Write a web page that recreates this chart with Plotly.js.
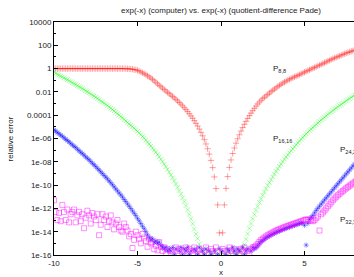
<!DOCTYPE html>
<html><head><meta charset="utf-8">
<script src="https://cdn.plot.ly/plotly-3.0.1.min.js"></script>
<style>html,body{margin:0;padding:0;overflow:hidden;background:#fff;}#chart{width:400px;height:277px;}</style>
</head><body><div id="chart"></div>
<script>
// sampling grid of the plot: x from -10 step 0.1
const xStart = -10, xStep = 0.1;

// log10(relative error) (null = no point shown)
const p8Log = [
0,0,0,0,0,0,0,0,0,0,
0,0,0,0,0,0,0,0,0,0,
0,0,0,0,0,0,0,0,0,0,
0,0,0,0,0,0,0,0,0,0,
0,0,-0.005,-0.008,-0.013,-0.022,-0.035,-0.055,-0.08,-0.11,
-0.15,-0.21,-0.28,-0.36,-0.44,-0.52,-0.61,-0.71,-0.82,-0.93,
-1.05,-1.18,-1.31,-1.44,-1.56,-1.68,-1.8,-1.92,-2.04,-2.15,
-2.27,-2.39,-2.51,-2.64,-2.77,-2.91,-3.05,-3.2,-3.36,-3.52,
-3.69,-3.87,-4.06,-4.26,-4.47,-4.69,-4.93,-5.19,-5.47,-5.77,
-6.1,-6.47,-6.88,-7.34,-7.88,-8.5,-9.3,-10.3,-11.7,-14.1,
null,-14.1,-11.7,-10.28,-9.27,-8.48,-7.84,-7.29,-6.82,-6.4,
-6.02,-5.68,-5.36,-5.06,-4.78,-4.52,-4.27,-4.04,-3.82,-3.61,
-3.41,-3.22,-3.04,-2.87,-2.72,-2.58,-2.46,-2.34,-2.22,-2.1,
-1.98,-1.87,-1.76,-1.65,-1.54,-1.44,-1.35,-1.25,-1.16,-1.08,
-1.0,-0.92,-0.85,-0.78,-0.71,-0.65,-0.59,-0.52,-0.45,-0.38,
-0.31,-0.24,-0.17,-0.11,-0.04,0.03,0.09,0.16,0.23,0.29,
0.36,0.43,0.5,0.57,0.64,0.71,0.78,0.85,0.91,0.97,
1.03,1.09,1.15,1.21,1.27,1.33,1.38,1.43,1.48,1.53,
1.58,1.63,1.68];

const p16Log = [
-0.3,-0.41,-0.49,-0.56,-0.65,-0.71,-0.8,-0.88,-0.95,-1.04,
-1.12,-1.21,-1.29,-1.36,-1.46,-1.55,-1.63,-1.72,-1.8,-1.9,
-1.99,-2.07,-2.18,-2.28,-2.36,-2.46,-2.57,-2.67,-2.77,-2.87,
-2.97,-3.08,-3.18,-3.3,-3.4,-3.52,-3.64,-3.76,-3.88,-3.99,
-4.11,-4.23,-4.37,-4.49,-4.62,-4.76,-4.86,-4.99,-5.12,-5.25,
-5.39,-5.53,-5.67,-5.82,-5.97,-6.14,-6.31,-6.48,-6.65,-6.82,
-7.01,-7.19,-7.38,-7.58,-7.79,-7.99,-8.21,-8.42,-8.65,-8.89,
-9.13,-9.38,-9.64,-9.91,-10.19,-10.47,-10.78,-11.09,-11.42,-11.76,
-12.12,-12.5,-12.9,-13.32,-13.77,-14.2,-14.6,-15.05,-15.48,-15.65,
-15.95,null,-15.65,null,-15.95,null,null,-15.65,null,-15.95,
null,null,-15.95,null,-15.65,null,-15.95,null,-15.65,null,
-15.95,-15.65,-15.65,-15.4,-15.1,-14.65,-14.17,-13.72,-13.3,-12.9,
-12.52,-12.16,-11.82,-11.49,-11.18,-10.87,-10.59,-10.31,-10.04,-9.78,
-9.53,-9.29,-9.05,-8.82,-8.61,-8.39,-8.19,-7.98,-7.78,-7.59,
-7.41,-7.22,-7.05,-6.88,-6.71,-6.54,-6.37,-6.22,-6.06,-5.91,
-5.76,-5.6,-5.47,-5.33,-5.2,-5.06,-4.92,-4.79,-4.67,-4.53,
-4.41,-4.29,-4.18,-4.06,-3.94,-3.82,-3.7,-3.6,-3.48,-3.38,
-3.27,-3.17,-3.07,-2.97,-2.87,-2.76,-2.66,-2.58,-2.48,-2.37,
-2.29,-2.2,-2.1];

const p24Log = [
-5.26,-5.36,-5.49,-5.59,-5.71,-5.81,-5.94,-6.07,-6.17,-6.29,
-6.42,-6.55,-6.67,-6.77,-6.92,-7.05,-7.18,-7.3,-7.43,-7.58,
-7.7,-7.83,-7.98,-8.13,-8.26,-8.41,-8.56,-8.71,-8.86,-9.01,
-9.17,-9.32,-9.47,-9.64,-9.8,-9.97,-10.15,-10.33,-10.5,-10.68,
-10.85,-11.03,-11.23,-11.41,-11.61,-11.81,-12.01,-12.22,-12.42,-12.62,
-12.85,-13.07,-13.3,-13.53,-13.75,-14.0,-14.26,-14.5,-14.7,-14.6,
-14.9,-14.8,-15.0,-14.9,-15.2,-15.3,-15.48,-15.35,-15.65,-15.48,
-15.65,-15.35,-15.95,-15.48,null,-15.65,-15.35,-15.95,-15.48,-15.65,
-15.35,-15.95,-15.65,null,-15.48,-15.65,-15.95,-15.35,null,-15.65,
-15.95,-15.48,null,-15.65,-15.95,null,-15.65,null,-15.95,-15.48,
null,-15.65,null,-15.95,-15.48,-15.65,null,-15.35,-15.65,-15.95,
-15.48,-15.65,null,-15.35,-15.95,-15.65,-15.48,null,-15.65,-15.35,
-15.48,-15.35,-15.2,-15.0,-14.85,-14.75,-14.63,-14.52,-14.43,-14.35,
-14.27,-14.2,-14.13,-14.06,-14.0,-13.94,-13.88,-13.82,-13.76,-13.71,
-13.65,-13.6,-13.55,-13.5,-13.45,-13.4,-13.35,-13.3,-13.25,-13.25,
-13.45,-15.15,-13.3,-12.95,-12.75,-12.6,-12.38,-12.17,-11.99,-11.81,
-11.63,-11.45,-11.27,-11.1,-10.92,-10.75,-10.58,-10.4,-10.23,-10.06,
-9.89,-9.72,-9.55,-9.38,-9.21,-9.04,-8.87,-8.7,-8.53,-8.36,
-8.2,-8.04,-7.88];

const p32Log = [
-11.3,-12.3,-13.0,-12.4,-13.1,-11.7,-12.3,-13.0,-12.1,-13.2,
-12.5,-12.3,-12.1,-13.2,-12.6,-12.3,-13.1,-12.5,-13.7,-12.8,
-12.2,-12.6,-13.3,-12.4,-12.7,-13.0,-12.5,-14.3,-13.4,-12.5,
-13.0,-12.7,-13.6,-13.1,-12.6,-13.2,-13.8,-13.3,-13.0,-13.6,
-13.9,-14.0,-13.3,-13.6,-13.9,-14.4,-14.2,-15.4,-14.7,-14.0,
-14.3,-14.6,-15.0,-14.2,-14.5,-14.8,-15.3,-14.6,-15.0,-14.9,
-15.5,-15.2,-15.6,-14.9,-15.3,-15.65,-15.35,-15.95,-15.48,null,
-15.65,-15.95,null,-15.35,-15.65,-15.48,null,-15.95,-15.65,-15.35,
null,-15.48,-15.65,-15.95,-15.35,null,-15.65,-15.48,-15.95,null,
-15.65,-15.35,null,-15.95,-15.48,-15.65,null,-15.35,-15.65,null,
null,-15.48,-15.65,null,-15.95,-15.35,-15.65,null,-15.48,-15.65,
null,-15.95,-15.48,-15.65,-15.35,null,-15.65,-15.95,-15.48,-15.35,
-15.3,-15.2,-15.05,-14.88,-14.72,-14.6,-14.5,-14.4,-14.3,-14.22,
-14.14,-14.06,-13.98,-13.91,-13.85,-13.79,-13.73,-13.67,-13.61,-13.55,
-13.5,-13.45,-13.4,-13.35,-13.3,-13.25,-13.2,-13.15,-13.1,-13.05,
-13.0,-12.95,-12.95,-12.98,-13.05,-13.1,-13.0,-12.85,-12.7,-13.9,
-12.5,-12.35,-12.18,-12.0,-11.82,-11.65,-11.48,-11.3,-11.15,-11.0,
-10.87,-10.74,-10.62,-10.5,-10.38,-10.27,-10.16,-10.05,-9.95,-9.85,
-9.75,-9.65,-9.56];

const seriesNames = ['P8,8', 'P16,16', 'P24,24', 'P32,32'];
const seriesColors = ['#ff0000', '#00ff00', '#0000ff', '#ff00ff'];
const seriesSymbols = ['cross-thin-open', 'x-thin-open', 'asterisk-open', 'square-open'];

const yTickVals = [1e4, 1e2, 1, 1e-2, 1e-4, 1e-6, 1e-8, 1e-10, 1e-12, 1e-14, 1e-16];
const yTickText = ['10000', '100', '1', '0.01', '0.0001', '1e-06', '1e-08', '1e-10', '1e-12', '1e-14', '1e-16'];
const yMinorVals = [1e3, 1e1, 1e-1, 1e-3, 1e-5, 1e-7, 1e-9, 1e-11, 1e-13, 1e-15];
const xTickVals = [-10, -5, 0, 5, 10];
const xTickText = ['-10', '-5', '0', '5', '10'];

const labelText = ['P<sub>8,8</sub>', 'P<sub>16,16</sub>', 'P<sub>24,24</sub>', 'P<sub>32,32</sub>'];
const labelX = [3, 3, 7, 7];
const labelYExp = [0, -6, -7, -13];

const titleText = 'exp(-x) (computer) vs. exp(-x) (quotient-difference Pade)';

const xs = p8Log.map((_, i) => Math.round((xStart + i * xStep) * 10) / 10);
const toVal = arr => arr.map(v => v === null ? null : Math.pow(10, v));

const allLogs = [p8Log, p16Log, p24Log, p32Log];
const traces = allLogs.map((arr, k) => ({
  type: 'scatter', mode: 'markers', name: seriesNames[k],
  x: xs, y: toVal(arr),
  marker: { symbol: seriesSymbols[k], size: k === 3 ? 5 : 4.5, color: seriesColors[k],
            opacity: 0.75,
            line: { width: k === 3 ? 0.6 : 0.5, color: seriesColors[k] } },
  cliponaxis: true, showlegend: false, hoverinfo: 'skip'
}));

const W = 400, H = 277, ML = 54, MR = 12, MT = 22, MB = 22;
const PW = W - ML - MR, PH = H - MT - MB;
const fontFam = '"Liberation Sans", Arial, Helvetica, sans-serif';

const annotations = labelText.map((t, i) => ({
  text: t, x: labelX[i], y: labelYExp[i], xref: 'x', yref: 'y',
  xanchor: 'left', yanchor: 'middle', showarrow: false,
  font: { family: fontFam, size: 8, color: '#222' }
}));
annotations.push({
  text: 'relative error', textangle: -90, xref: 'paper', yref: 'paper',
  x: (10 - ML) / PW, y: 0.5, xanchor: 'center', yanchor: 'middle', showarrow: false,
  font: { family: fontFam, size: 8, color: '#222' }
});
annotations.push({
  text: 'x', xref: 'paper', yref: 'paper',
  x: 0.5, y: -(272 - (MT + PH)) / PH, xanchor: 'center', yanchor: 'middle', showarrow: false,
  font: { family: fontFam, size: 8, color: '#222' }
});

const layout = {
  width: W, height: H,
  margin: { l: ML, r: MR, t: MT, b: MB, pad: 0 },
  paper_bgcolor: '#fff', plot_bgcolor: '#fff',
  font: { family: fontFam, size: 8, color: '#222' },
  title: { text: titleText, x: 0.5, xref: 'paper', xanchor: 'center',
           y: 1 - 10 / H, yref: 'container', yanchor: 'middle',
           font: { family: fontFam, size: 8, color: '#222' } },
  showlegend: false,
  xaxis: {
    range: [-10, 10], tickmode: 'array', tickvals: xTickVals, ticktext: xTickText,
    ticks: 'inside', ticklen: 4, tickwidth: 1, tickcolor: '#000',
    showline: true, linecolor: '#000', linewidth: 1, mirror: 'ticks',
    showgrid: false, zeroline: false, tickfont: { size: 8, color: '#222' }
  },
  yaxis: {
    type: 'log', range: [-16, 4], tickmode: 'array', tickvals: yTickVals, ticktext: yTickText,
    ticks: 'inside', ticklen: 4, tickwidth: 1, tickcolor: '#000',
    minor: { tickmode: 'array', tickvals: yMinorVals, ticks: 'inside', ticklen: 2, tickcolor: '#000', showgrid: false },
    showline: true, linecolor: '#000', linewidth: 1, mirror: 'ticks',
    showgrid: false, zeroline: false, tickfont: { size: 8, color: '#222' }
  },
  annotations: annotations
};

Plotly.newPlot('chart', traces, layout, { staticPlot: true, displayModeBar: false });
</script>
</body></html>
